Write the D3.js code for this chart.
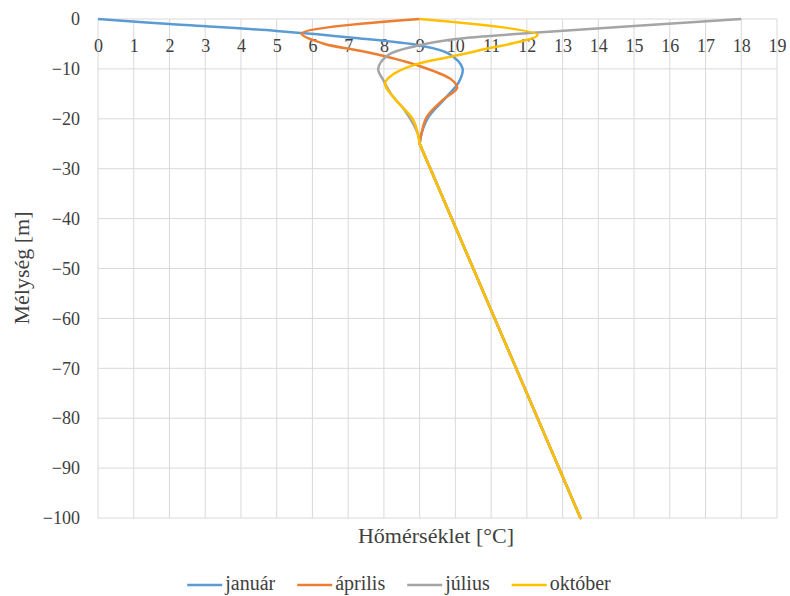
<!DOCTYPE html>
<style type="text/css">
  html,body
  {
      width: 790px;
      height: 596px;
      margin: 0px;
      padding: 0px;
      background: #FFFFFF;
  }

  .tick_label {
      font-family: "Liberation Serif", "Times New Roman", Tinos, "DejaVu Serif", serif;
      font-size: 18px;
      fill: #404040;
  }

  .axis_title {
      font-family: "Liberation Serif", "Times New Roman", Tinos, "DejaVu Serif", serif;
      font-size: 22px;
      fill: #404040;
  }

  .legend_text {
      font-family: "Liberation Serif", "Times New Roman", Tinos, "DejaVu Serif", serif;
      font-size: 20px;
      fill: #404040;
  }
</style>
<html lang="hu">
    <head>
        <meta charset="utf-8">
        <title>Hőmérséklet - mélység</title>
        <script src="https://d3js.org/d3.v7.min.js"></script>
    </head>
    <body>
        <svg width="790" height="596"></svg>

        <script type="text/javascript">

            //The data: [temperature °C, depth m]
            const januar = [[0,0],[2,-1],[5,-2.4],[7.2,-3.8],[9,-5.3],[9.8,-6.9],[10.2,-9.9],[10.1,-12.6],[9.7,-16],[9.25,-19.6],[9.05,-23],[9,-25],[13.5,-100]];
            const aprilis = [[9,0],[5.7,-2.9],[6.3,-4.9],[7.5,-6.6],[8.9,-9.2],[9.9,-12.2],[10.05,-13.8],[9.65,-16.2],[9.2,-19.6],[9.05,-23],[9,-25],[13.5,-100]];
            const julius = [[18,0],[12.3,-2.7],[9.9,-4.1],[8.9,-5.4],[8.12,-7.2],[7.84,-10],[7.98,-12.2],[8.2,-15],[8.6,-18.5],[8.95,-23],[9,-25],[13.5,-100]];
            const oktober = [[9,0],[12.3,-3.2],[10.6,-6.4],[9.7,-7.8],[8.9,-9.1],[8.3,-10.9],[8.03,-12.9],[8.3,-16],[8.82,-20.2],[9,-25],[13.5,-100]];

            const seriesNames = ["január", "április", "július", "október"];
            const seriesData = [januar, aprilis, julius, oktober];
            const colors = ["#5B9BD5", "#ED7D31", "#A5A5A5", "#FFC000"];

            const xTicks = [0,1,2,3,4,5,6,7,8,9,10,11,12,13,14,15,16,17,18,19];
            const yTicks = [0,-10,-20,-30,-40,-50,-60,-70,-80,-90,-100];

            const svg = d3.select("svg")
                          .style("background-color", "#FFFFFF");

            const x = d3.scaleLinear().domain([0,19]).range([98,777]);
            const y = d3.scaleLinear().domain([0,-100]).range([19,518]);

            //grid
            svg.append("g")
               .selectAll("line")
               .data(xTicks)
               .enter()
               .append("line")
               .attr("x1", d=>x(d)).attr("x2", d=>x(d))
               .attr("y1", y(0)).attr("y2", y(-100))
               .attr("stroke", "#D9D9D9")
               .attr("stroke-width", 1);

            svg.append("g")
               .selectAll("line")
               .data(yTicks)
               .enter()
               .append("line")
               .attr("x1", x(0)).attr("x2", x(19))
               .attr("y1", d=>y(d)).attr("y2", d=>y(d))
               .attr("stroke", "#D9D9D9")
               .attr("stroke-width", 1);

            //axes (labels only, lines are the grid)
            const xAxis = svg.append("g")
               .attr("transform", "translate(0," + y(0) + ")")
               .call(d3.axisBottom(x).tickValues(xTicks).tickSize(0).tickPadding(20));
            xAxis.select(".domain").remove();
            xAxis.attr("font-family", null).attr("font-size", null);
            xAxis.selectAll("text").attr("class", "tick_label").attr("fill", null);

            const yAxis = svg.append("g")
               .attr("transform", "translate(" + x(0) + ",0)")
               .call(d3.axisLeft(y).tickValues(yTicks).tickSize(0).tickPadding(18));
            yAxis.select(".domain").remove();
            yAxis.attr("font-family", null).attr("font-size", null);
            yAxis.selectAll("text").attr("class", "tick_label").attr("fill", null);

            //the lines: smooth near the surface, straight below the -25 m meeting point
            const smooth = d3.line()
                           .x(d=>x(d[0]))
                           .y(d=>y(d[1]))
                           .curve(d3.curveCatmullRom.alpha(0.5));
            const straight = d3.line()
                           .x(d=>x(d[0]))
                           .y(d=>y(d[1]));

            const lines = svg.append("g")
               .selectAll("g")
               .data(seriesData)
               .enter()
               .append("g");

            lines.append("path")
               .attr("d", d=>smooth(d.filter(p=>p[1] >= -25)))
               .attr("fill", "none")
               .attr("stroke", (d,i)=>colors[i])
               .attr("stroke-width", 2.5)
               .attr("stroke-linejoin", "round");

            lines.append("path")
               .attr("d", d=>straight(d.filter(p=>p[1] <= -25)))
               .attr("fill", "none")
               .attr("stroke", (d,i)=>colors[i])
               .attr("stroke-width", 2.5)
               .attr("stroke-linecap", "round");

            //titles
            svg.append("text")
               .attr("class", "axis_title")
               .attr("x", 436)
               .attr("y", 543)
               .attr("text-anchor", "middle")
               .text("Hőmérséklet [°C]");

            svg.append("text")
               .attr("class", "axis_title")
               .attr("transform", "translate(29,268) rotate(-90)")
               .attr("text-anchor", "middle")
               .text("Mélység [m]");

            //legend
            const legend = svg.append("g");
            const items = legend.selectAll("g")
               .data(seriesNames)
               .enter()
               .append("g");

            items.append("line")
               .attr("x1", 0).attr("x2", 35)
               .attr("y1", 0).attr("y2", 0)
               .attr("stroke", (d,i)=>colors[i])
               .attr("stroke-width", 2.5);

            items.append("text")
               .attr("class", "legend_text")
               .attr("x", 38)
               .attr("y", 5)
               .text(d=>d);

            let pos = 0;
            const starts = [];
            items.each(function(d,i){
              starts.push(pos);
              pos += 38 + this.querySelector("text").getComputedTextLength() + 22;
            });
            const total = pos - 22;
            const left = 399 - total/2;
            items.attr("transform", (d,i)=>"translate(" + (left + starts[i]) + ",585)");

        </script>
    </body>
</html>
